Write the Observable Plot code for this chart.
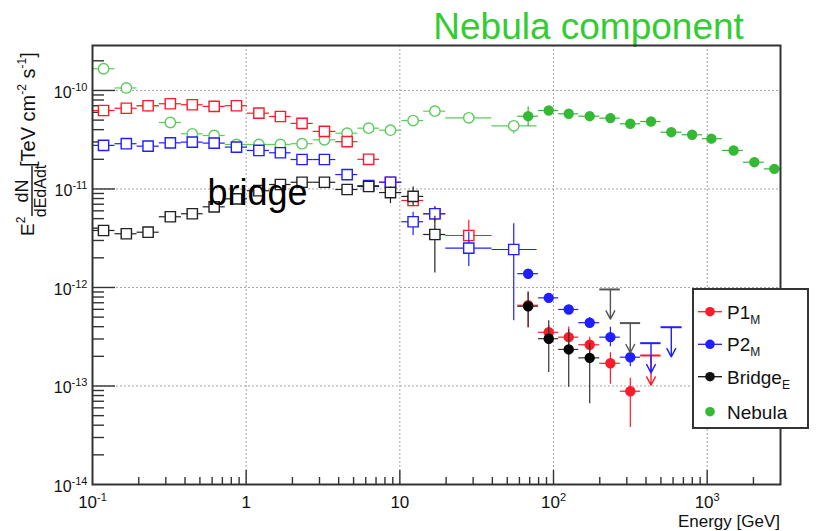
<!DOCTYPE html>
<html><head><meta charset="utf-8">
<script src="https://cdn.jsdelivr.net/npm/d3@7"></script>
<script src="https://cdn.jsdelivr.net/npm/@observablehq/plot@0.6"></script>
<style>
body{margin:0;background:#fff;font-family:"Liberation Sans",Arial,Helvetica,sans-serif;}
#wrap{position:relative;width:817px;height:531px;overflow:hidden;}
#wrap > svg{position:absolute;left:0;top:0;}
</style>
</head><body><div id="wrap"></div>
<script>
// ---------- energy bins (GeV) ----------
const lowE     = [0.118, 0.166, 0.230, 0.321, 0.446, 0.619, 0.865, 1.21, 1.67, 2.31, 3.23, 4.54, 6.27, 8.69, 12.2, 16.9, 28.1, 55.1];
const lowEdges = [0.1, 0.140, 0.195, 0.272, 0.379, 0.525, 0.731, 1.02, 1.42, 1.96, 2.73, 3.83, 5.33, 7.38, 10.3, 14.3, 19.9, 39.8, 78.2];
const highE     = [68.4, 93.1, 125.6, 172, 234.5, 316, 431, 584, 798, 1065, 1486, 2027, 2735];
const highEdges = [58.5, 79.8, 108, 146, 200, 272, 369, 501, 687, 931, 1256, 1720, 2356, 3000];

// ---------- P1_M (red) ----------
const p1OpenF  = [6.26e-11, 6.6e-11, 7.0e-11, 7.33e-11, 7.16e-11, 6.89e-11, 7.0e-11, 5.88e-11, 5.44e-11, 4.63e-11, 3.84e-11, 3.02e-11, 2.0e-11, 1.17e-11, 7.64e-12, 5.6e-12, 3.37e-12];
const p1OpenLo = [5.95e-11, 6.3e-11, 6.7e-11, 7.0e-11, 6.85e-11, 6.6e-11, 6.7e-11, 5.6e-11, 5.15e-11, 4.35e-11, 3.6e-11, 2.8e-11, 1.85e-11, 1.05e-11, 6.6e-12, 4.7e-12, 2.9e-12];
const p1OpenHi = [6.6e-11, 6.9e-11, 7.3e-11, 7.7e-11, 7.5e-11, 7.2e-11, 7.3e-11, 6.2e-11, 5.75e-11, 4.9e-11, 4.1e-11, 3.25e-11, 2.15e-11, 1.3e-11, 8.8e-12, 6.6e-12, 4.8e-12];
const p1F  = [6.6e-13, 3.51e-13, 3.13e-13, 2.62e-13, 1.70e-13, 8.85e-14];
const p1Lo = [3.9e-13, 2.9e-13, 2.5e-13, 2.04e-13, 1.04e-13, 3.8e-14];
const p1Hi = [9.0e-13, 4.1e-13, 3.97e-13, 3.13e-13, 2.17e-13, 1.2e-13];
const p1ULbin = [6], p1UL = [2.04e-13];

// ---------- P2_M (blue) ----------
const p2OpenF  = [2.77e-11, 2.88e-11, 2.72e-11, 2.94e-11, 2.99e-11, 2.92e-11, 2.66e-11, 2.46e-11, 2.33e-11, 1.99e-11, 1.99e-11, 1.40e-11, 1.08e-11, 1.17e-11, 4.65e-12, 5.6e-12, 2.51e-12, 2.43e-12];
const p2OpenLo = [2.65e-11, 2.75e-11, 2.6e-11, 2.8e-11, 2.85e-11, 2.78e-11, 2.53e-11, 2.34e-11, 2.2e-11, 1.87e-11, 1.87e-11, 1.3e-11, 0.99e-11, 1.06e-11, 3.37e-12, 4.8e-12, 1.63e-12, 4.6e-13];
const p2OpenHi = [2.9e-11, 3.0e-11, 2.85e-11, 3.08e-11, 3.13e-11, 3.06e-11, 2.8e-11, 2.58e-11, 2.46e-11, 2.11e-11, 2.11e-11, 1.5e-11, 1.17e-11, 1.28e-11, 5.8e-12, 6.6e-12, 3.65e-12, 4.43e-12];
const p2F  = [1.38e-12, 7.85e-13, 5.98e-13, 4.39e-13, 3.13e-13, 1.96e-13];
const p2Lo = [1.27e-12, 7.2e-13, 5.4e-13, 3.95e-13, 2.5e-13, 1.57e-13];
const p2Hi = [1.5e-12, 8.6e-13, 6.6e-13, 4.95e-13, 3.95e-13, 2.5e-13];
const p2ULbin = [6, 7], p2UL = [2.72e-13, 3.95e-13];

// ---------- Bridge_E (black) ----------
const brOpenF  = [3.79e-12, 3.51e-12, 3.64e-12, 5.22e-12, 5.6e-12, 6.59e-12, 7.94e-12, 9.6e-12, 1.11e-11, 1.17e-11, 1.17e-11, 9.88e-12, 1.06e-11, 9.2e-12, 8.4e-12, 3.45e-12];
const brOpenLo = [3.4e-12, 3.15e-12, 3.3e-12, 4.8e-12, 5.2e-12, 6.15e-12, 7.45e-12, 9.0e-12, 1.04e-11, 1.1e-11, 1.1e-11, 9.2e-12, 9.8e-12, 7.1e-12, 6.8e-12, 1.40e-12];
const brOpenHi = [4.2e-12, 3.9e-12, 4.0e-12, 5.65e-12, 6.0e-12, 7.05e-12, 8.45e-12, 1.02e-11, 1.18e-11, 1.24e-11, 1.24e-11, 1.06e-11, 1.14e-11, 1.05e-11, 1.05e-11, 5.3e-12];
const brF  = [6.45e-13, 3.02e-13, 2.35e-13, 1.93e-13];
const brLo = [3.89e-13, 1.37e-13, 9.7e-14, 6.6e-14];
const brHi = [8.95e-13, 4.6e-13, 3.73e-13, 2.7e-13];
const brULbin = [4, 5], brUL = [9.55e-13, 4.35e-13];

// ---------- Nebula (green) ----------
const nbOpenF  = [1.66e-10, 1.06e-10, 7.0e-11, 4.73e-11, 3.63e-11, 3.49e-11, 2.83e-11, 2.83e-11, 2.83e-11, 2.88e-11, 3.16e-11, 3.68e-11, 4.14e-11, 3.95e-11, 4.95e-11, 6.16e-11, 5.28e-11, 4.38e-11];
const nbOpenLo = [1.55e-10, 1.0e-10, 6.6e-11, 4.45e-11, 3.42e-11, 3.3e-11, 2.67e-11, 2.67e-11, 2.67e-11, 2.72e-11, 2.98e-11, 3.47e-11, 3.9e-11, 3.72e-11, 4.65e-11, 5.8e-11, 4.95e-11, 3.6e-11];
const nbOpenHi = [1.78e-10, 1.12e-10, 7.4e-11, 5.0e-11, 3.85e-11, 3.7e-11, 3.0e-11, 3.0e-11, 3.0e-11, 3.05e-11, 3.35e-11, 3.9e-11, 4.4e-11, 4.2e-11, 5.25e-11, 6.5e-11, 5.6e-11, 4.95e-11];
const nbF  = [5.48e-11, 6.26e-11, 5.80e-11, 5.48e-11, 5.24e-11, 4.59e-11, 4.84e-11, 3.77e-11, 3.55e-11, 3.24e-11, 2.46e-11, 1.87e-11, 1.60e-11];
const nbLo = [4.3e-11, 5.9e-11, 5.5e-11, 5.2e-11, 4.95e-11, 4.35e-11, 4.55e-11, 3.55e-11, 3.35e-11, 3.05e-11, 2.3e-11, 1.75e-11, 1.5e-11];
const nbHi = [6.8e-11, 6.6e-11, 6.1e-11, 5.75e-11, 5.5e-11, 4.85e-11, 5.1e-11, 4.0e-11, 3.75e-11, 3.45e-11, 2.6e-11, 2.0e-11, 1.7e-11];

// ---------- axes ----------
const xTickValues = [0.1, 1, 10, 100, 1000];
const xTickLabels = ["10^-1", "1", "10", "10^2", "10^3"];
const xGrid = [1, 10, 100, 1000];
const xMinor = [0.2,0.3,0.4,0.5,0.6,0.7,0.8,0.9, 2,3,4,5,6,7,8,9, 20,30,40,50,60,70,80,90, 200,300,400,500,600,700,800,900, 2000];
const yTickValues = [1e-14, 1e-13, 1e-12, 1e-11, 1e-10];
const yTickLabels = ["10^-14", "10^-13", "10^-12", "10^-11", "10^-10"];
const yGrid = [1e-13, 1e-12, 1e-11, 1e-10];
const yMinor = [2e-14,3e-14,4e-14,5e-14,6e-14,7e-14,8e-14,9e-14, 2e-13,3e-13,4e-13,5e-13,6e-13,7e-13,8e-13,9e-13, 2e-12,3e-12,4e-12,5e-12,6e-12,7e-12,8e-12,9e-12, 2e-11,3e-11,4e-11,5e-11,6e-11,7e-11,8e-11,9e-11, 2e-10];

// ---------- annotations & legend ----------
const noteLabels = ["bridge", "Nebula component"];
const noteE = [0.56, 16.5];
const noteF = [6.8e-12, 3.35e-10];
const noteColors = ["#000000", "#33cc33"];
const noteSizes = [36, 37];
const legendNames = ["P1", "P2", "Bridge", "Nebula"];
const legendSubs = ["M", "M", "E", ""];

const RED = "#ff1a2a", BLUE = "#1f1fff", BLACK = "#111111", GREEN_O = "#5ccc5c", GREEN_F = "#35b935";
const legendColors = [RED, BLUE, BLACK, GREEN_F];
const FONT = '"Liberation Sans", Arial, Helvetica, sans-serif';

function rows(E, edges, F, lo, hi) {
  return F.map((f, i) => ({E: E[i], xlo: edges[i], xhi: edges[i + 1], F: f, lo: lo[i], hi: hi[i]}));
}
function ulRows(bins, UL) {
  return bins.map((b, i) => ({E: highE[b], xlo: highEdges[b], xhi: highEdges[b + 1], F: UL[i]}));
}
function series(data, color, opts = {}) {
  const {symbol = "circle", r = 4.5, fill = color, bar = color, sw = 1.2} = opts;
  return [
    Plot.ruleY(data, {y: "F", x1: "xlo", x2: "xhi", stroke: bar, strokeWidth: sw}),
    Plot.ruleX(data, {x: "E", y1: "lo", y2: "hi", stroke: bar, strokeWidth: sw}),
    Plot.dot(data, {x: "E", y: "F", symbol, r, fill, stroke: color, strokeWidth: 1.4})
  ];
}
function limits(data, color) {
  return [
    Plot.ruleY(data, {y: "F", x1: "xlo", x2: "xhi", stroke: color, strokeWidth: 2}),
    Plot.arrow(data, {x1: "E", x2: "E", y1: "F", y2: d => d.F / 2, stroke: color, strokeWidth: 1.4, headLength: 10, headAngle: 55})
  ];
}

const openSq = {symbol: "square", r: 5.8, fill: "white"};
const xLab = new Map(xTickValues.map((v, i) => [v, xTickLabels[i]]));
const yLab = new Map(yTickValues.map((v, i) => [v, yTickLabels[i]]));
const notes = noteLabels.map((t, i) => ({t, E: noteE[i], F: noteF[i], c: noteColors[i], s: noteSizes[i]}));

const chart = Plot.plot({
  width: 817, height: 531,
  marginLeft: 92, marginRight: 37, marginTop: 45, marginBottom: 47,
  style: {fontFamily: FONT, background: "transparent", overflow: "visible", color: "#111"},
  x: {type: "log", domain: [0.1, 3000], label: null},
  y: {type: "log", domain: [1e-14, 2.86e-10], label: null},
  marks: [
    Plot.gridX({ticks: xGrid, stroke: "#a5a5a5", strokeOpacity: 1, strokeDasharray: "2,2"}),
    Plot.gridY({ticks: yGrid, stroke: "#a5a5a5", strokeOpacity: 1, strokeDasharray: "2,2"}),
    Plot.tickX(xMinor, {x: d => d, insetTop: 439 - 7, stroke: "#333", strokeWidth: 1.4}),
    Plot.tickX(xGrid, {x: d => d, insetTop: 439 - 14, stroke: "#333", strokeWidth: 1.4}),
    Plot.tickY(yMinor, {y: d => d, insetRight: 688 - 12, stroke: "#333", strokeWidth: 1.4}),
    Plot.tickY(yGrid, {y: d => d, insetRight: 688 - 23, stroke: "#333", strokeWidth: 1.4}),
    Plot.axisX({ticks: xTickValues, tickFormat: d => xLab.get(d), tickSize: 0, tickPadding: 11, fontSize: 17, label: null}),
    Plot.axisY({ticks: yTickValues, tickFormat: d => yLab.get(d), tickSize: 0, tickPadding: 5, fontSize: 16, dy: 2, label: null}),

    ...series(rows(lowE, lowEdges, nbOpenF, nbOpenLo, nbOpenHi), GREEN_O, {symbol: "circle", r: 5.2, fill: "white"}),
    ...series(rows(lowE, lowEdges, p1OpenF, p1OpenLo, p1OpenHi), RED, openSq),
    ...series(rows(lowE, lowEdges, p2OpenF, p2OpenLo, p2OpenHi), BLUE, openSq),
    ...series(rows(lowE, lowEdges, brOpenF, brOpenLo, brOpenHi), "#222", openSq),
    ...series(rows(highE, highEdges, nbF, nbLo, nbHi), GREEN_F, {r: 4.5}),
    ...series(rows(highE, highEdges, p2F, p2Lo, p2Hi), BLUE, {r: 4.5}),
    ...series(rows(highE, highEdges, p1F, p1Lo, p1Hi), RED, {r: 4.5}),
    ...series(rows(highE, highEdges, brF, brLo, brHi), "#000", {r: 4.5, bar: "#333"}),
    ...limits(ulRows(brULbin, brUL), "#555"),
    ...limits(ulRows(p1ULbin, p1UL), RED),
    ...limits(ulRows(p2ULbin, p2UL), BLUE),

    Plot.text(notes, {x: "E", y: "F", text: "t", fill: "c", fontSize: "s", textAnchor: "start", lineAnchor: "bottom"}),
    Plot.frame({stroke: "#333", strokeWidth: 2})
  ]
});

document.getElementById("wrap").appendChild(chart);

// superscripts for "10^n" tick labels
d3.select(chart).selectAll("text").each(function () {
  const t = this.textContent;
  if (t.includes("^")) {
    const [base, exp] = t.split("^");
    const sel = d3.select(this);
    sel.text(base);
    sel.append("tspan").style("font-size", "11px").attr("dy", -7).text(exp);
  }
});

// y-axis title (rotated)
const g = d3.select(chart).append("g").attr("transform", "rotate(-90)")
  .style("font-family", FONT).attr("fill", "#111").attr("text-anchor", "start");
const ty = g.append("text").attr("x", -167).attr("y", 35).style("font-size", "20px").attr("text-anchor", "start");
ty.append("tspan").text("[TeV cm");
ty.append("tspan").style("font-size", "12px").attr("dy", -9).text("-2");
ty.append("tspan").attr("dy", 9).text(" s");
ty.append("tspan").style("font-size", "12px").attr("dy", -9).text("-1");
ty.append("tspan").attr("dy", 9).text("]");
const te = g.append("text").attr("x", -236).attr("y", 34).style("font-size", "19px").attr("text-anchor", "start");
te.append("tspan").text("E");
te.append("tspan").style("font-size", "12px").attr("dy", -9).text("2");
g.append("text").attr("x", -191).attr("y", 28).style("font-size", "18px").attr("text-anchor", "middle").text("dN");
g.append("line").attr("x1", -216).attr("x2", -166).attr("y1", 32).attr("y2", 32).attr("stroke", "#111").attr("stroke-width", 1.4);
g.append("text").attr("x", -191).attr("y", 46).style("font-size", "16px").attr("text-anchor", "middle").text("dEdAdt");

// x-axis title
d3.select(chart).append("text").attr("x", 780).attr("y", 527).attr("text-anchor", "end")
  .style("font-family", FONT).style("font-size", "17px").attr("fill", "#111").text("Energy [GeV]");

// legend
const lg = d3.select("#wrap").append("svg")
  .attr("width", 118).attr("height", 142)
  .style("position", "absolute").style("left", "692px").style("top", "288px");
lg.append("rect").attr("x", 1).attr("y", 1).attr("width", 115).attr("height", 139)
  .attr("fill", "white").attr("stroke", "#333").attr("stroke-width", 2);
const rowY = [23.7, 56.3, 88.7, 123.7];
legendNames.forEach((name, i) => {
  const cy = rowY[i], c = legendColors[i];
  if (legendSubs[i]) lg.append("line").attr("x1", 6).attr("x2", 30).attr("y1", cy).attr("y2", cy).attr("stroke", c).attr("stroke-width", 1.3);
  lg.append("circle").attr("cx", 18).attr("cy", cy).attr("r", 4.8).attr("fill", c);
  const t = lg.append("text").attr("x", 35).attr("y", cy + 7).style("font-family", FONT).style("font-size", "19px").attr("fill", "#111");
  t.append("tspan").text(name);
  if (legendSubs[i]) t.append("tspan").style("font-size", "12px").attr("dy", 5).text(legendSubs[i]);
});
</script>
</body></html>
